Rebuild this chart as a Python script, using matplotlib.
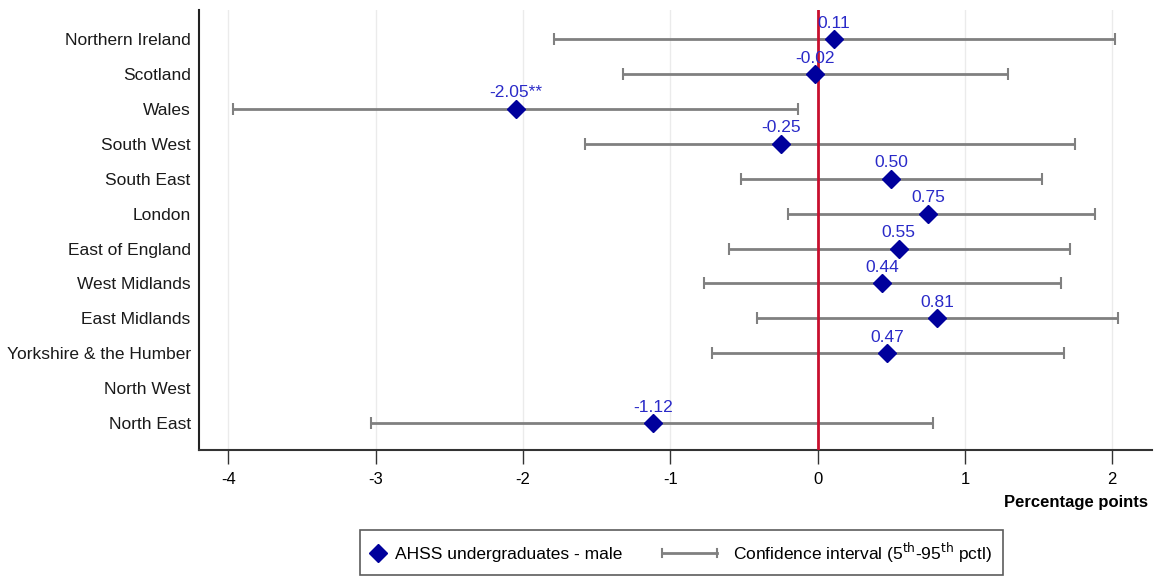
import matplotlib
matplotlib.use("Agg")
import matplotlib.pyplot as plt
from matplotlib.lines import Line2D
from matplotlib.legend_handler import HandlerBase
import numpy as np

plt.rcParams['font.family'] = ['Liberation Sans', 'DejaVu Sans']

regions = ["Northern Ireland", "Scotland", "Wales", "South West", "South East",
           "London", "East of England", "West Midlands", "East Midlands",
           "Yorkshire & the Humber", "North West", "North East"]
estimates = [0.11, -0.02, -2.05, -0.25, 0.50, 0.75, 0.55, 0.44, 0.81, 0.47, None, -1.12]
labels = ["0.11", "-0.02", "-2.05**", "-0.25", "0.50", "0.75", "0.55", "0.44", "0.81", "0.47", "", "-1.12"]
ci_low = [-1.79, -1.32, -3.97, -1.58, -0.52, -0.20, -0.60, -0.77, -0.41, -0.72, None, -3.03]
ci_high = [2.02, 1.29, -0.13, 1.75, 1.52, 1.88, 1.71, 1.65, 2.04, 1.67, None, 0.78]
xticks = [-4, -3, -2, -1, 0, 1, 2]

DPI = 100
fig = plt.figure(figsize=(11.54, 5.78), dpi=DPI)
ax = fig.add_axes([199/1154, 1 - 450/578, (1152 - 199)/1154, (450 - 10)/578])

ypos = np.arange(len(regions))
marker_color = "#00009C"
label_color = "#2A2AC8"
ci_color = "#808080"

for x in xticks:
    ax.axvline(x, color="#EBEBEB", lw=1, zorder=0)

for i, (est, lo, hi) in enumerate(zip(estimates, ci_low, ci_high)):
    if est is None:
        continue
    ax.errorbar(est, i, xerr=[[est - lo], [hi - est]], fmt="none",
                ecolor=ci_color, elinewidth=2, capsize=4, capthick=1.5, zorder=2)

ax.axvline(0, color="#C8102E", lw=2, zorder=3)

for i, (est, lab) in enumerate(zip(estimates, labels)):
    if est is None:
        continue
    ax.plot(est, i, marker="D", ms=9, color=marker_color, ls="none", zorder=4)
    ax.annotate(lab, (est, i), xytext=(0, 6), textcoords="offset points",
                ha="center", va="bottom", fontsize=12.5, color=label_color, zorder=5)

ax.set_ylim(len(regions) - 1 + 0.77, -0.83)
ax.set_xlim(-4.2, 2.27)
ax.set_yticks(ypos)
ax.set_yticklabels(regions, fontsize=12.5, color="#1a1a1a")
ax.set_xticks(xticks)
ax.set_xticklabels([str(t) for t in xticks], fontsize=12)
ax.tick_params(axis="y", length=0, pad=6)
ax.tick_params(axis="x", length=10, width=1, color="#333333", pad=6)

for s in ["top", "right"]:
    ax.spines[s].set_visible(False)
ax.spines["left"].set_linewidth(1.5)
ax.spines["left"].set_color("#222222")
ax.spines["bottom"].set_linewidth(1.5)
ax.spines["bottom"].set_color("#333333")

fig.text(1148/1154, 1 - 502/578, "Percentage points", ha="right", va="center",
         fontsize=12, fontweight="bold")

PX = 72 / DPI  # points per pixel


class CIHandler(HandlerBase):
    """Legend key: a horizontal interval with end caps, extending left of its slot."""
    def create_artists(self, legend, orig_handle, xdescent, ydescent,
                       width, height, fontsize, trans):
        y = height / 2 - ydescent
        x1 = width - xdescent - 6 * PX
        x0 = x1 - 55 * PX
        cap = 4 * PX
        line = Line2D([x0, x1], [y, y], color=ci_color, lw=2, transform=trans)
        c0 = Line2D([x0, x0], [y - cap, y + cap], color=ci_color, lw=1.5, transform=trans)
        c1 = Line2D([x1, x1], [y - cap, y + cap], color=ci_color, lw=1.5, transform=trans)
        return [line, c0, c1]


h1 = Line2D([], [], marker="D", ms=9, color=marker_color, ls="none")
h2 = Line2D([], [], color=ci_color)
leg = fig.legend([h1, h2],
                 ["AHSS undergraduates - male",
                  "Confidence interval (5$^{\\mathrm{th}}$-95$^{\\mathrm{th}}$ pctl)"],
                 loc="upper center", bbox_to_anchor=(681.5/1154, 1 - 530/578),
                 ncol=2, fontsize=12.5, frameon=True, fancybox=False,
                 edgecolor="#333333", borderpad=0.6, columnspacing=5.0,
                 handlelength=0.8, handletextpad=0.6, borderaxespad=0,
                 handler_map={h2: CIHandler()})
leg.get_frame().set_linewidth(1.2)

fig.savefig("out.png", dpi=DPI)
